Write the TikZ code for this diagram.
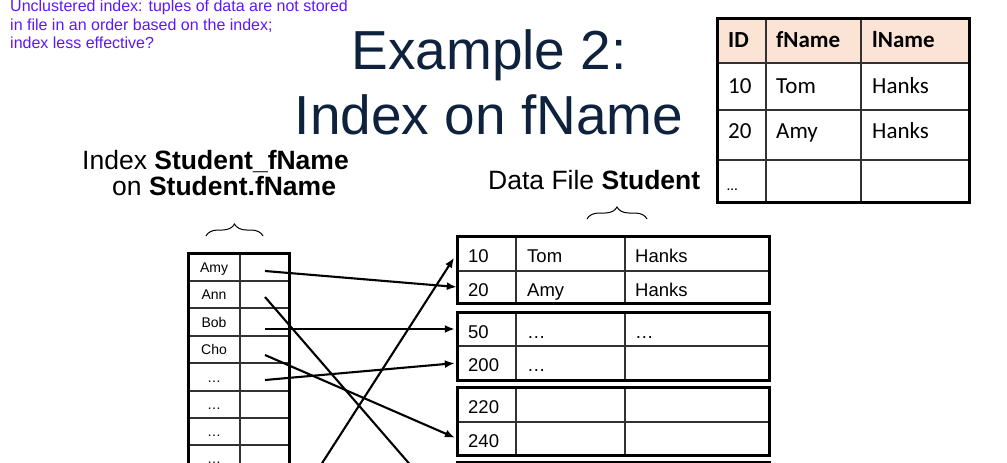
\documentclass[tikz,border=0pt]{standalone}
\usepackage{fontspec}
\setmainfont{Liberation Sans}
\newfontfamily\calibrifont{Carlito}
\usetikzlibrary{arrows.meta,decorations.pathreplacing}
\definecolor{notecol}{RGB}{92,24,250}
\definecolor{titlecol}{RGB}{14,34,62}
\definecolor{headfill}{RGB}{251,228,214}
\definecolor{gridgray}{RGB}{50,50,50}
\tikzset{
  txt/.style={inner sep=0pt, anchor=base west},
  ctxt/.style={inner sep=0pt, anchor=base},
  thickbox/.style={line width=3pt},
  thinline/.style={line width=1.2pt, gridgray},
  arr/.style={line width=2.1pt, -{Latex[length=10pt,width=8pt]}, shorten >=2pt},
  rowbox/.style={inner sep=0pt, minimum width=312pt, minimum height=34pt},
  notefont/.style={font=\fontsize{16}{18}\selectfont, text=notecol},
  titlefont/.style={font=\fontsize{55}{60}\selectfont, text=titlecol},
  labfont/.style={font=\fontsize{26.5}{30}\selectfont},
  datafont/.style={font=\fontsize{18.5}{22}\selectfont},
  idxfont/.style={font=\fontsize{14}{16}\selectfont},
  tabfont/.style={font=\calibrifont\fontsize{23}{26}\selectfont},
  bracestyle/.style={decorate, decoration={brace, amplitude=12pt}, line width=1pt}
}
\begin{document}
\begin{tikzpicture}[x=1pt,y=-1pt]
\useasboundingbox (0,0) rectangle (1007,463);
\clip (0,0) rectangle (1007,463);

% note
\node[txt, notefont] (note1) at (10,12) {Unclustered index: tuples of data are not stored};
\node[txt, notefont] (note2) at (10,30) {in file in an order based on the index;};
\node[txt, notefont] (note3) at (10,48) {index less effective?};

% title
\node[ctxt, titlefont] (title1) at (489,69) {Example 2:};
\node[ctxt, titlefont] (title2) at (489,134) {Index on fName};

% top-right table
\fill[headfill] (717,18) rectangle (969,63);
\draw[thinline] (717,63) -- (969,63) (717,110) -- (969,110) (717,160) -- (969,160)
  (766,18) -- (766,202) (861,18) -- (861,202);
\draw[thickbox] (717,18) rectangle (969,202);
\node[txt, tabfont] (hID) at (728,47) {\bfseries ID};
\node[txt, tabfont] (hF) at (776,47) {\bfseries fName};
\node[txt, tabfont] (hL) at (872,47) {\bfseries lName};
\node[txt, tabfont] (t10) at (728,93) {10};
\node[txt, tabfont] (tTom) at (776,93) {Tom};
\node[txt, tabfont] (tH1) at (872,93) {Hanks};
\node[txt, tabfont] (t20) at (728,138) {20};
\node[txt, tabfont] (tAmy) at (776,138) {Amy};
\node[txt, tabfont] (tH2) at (872,138) {Hanks};
\node[txt, font=\calibrifont\fontsize{15}{18}\selectfont] (tdots) at (727,190) {…};

% labels
\node[txt, labfont] (lab1) at (82,169) {Index \textbf{Student\_fName}};
\node[txt, labfont] (lab2) at (112,195) {on \textbf{Student.fName}};
\node[txt, labfont] (lab3) at (488,189) {Data File \textbf{Student}};

% braces
\draw[bracestyle] (206,236) -- (263,236);
\draw[bracestyle] (587,219) -- (647,219);

% index table
\draw[thinline] (240,253) -- (240,540);
\foreach \yy in {281,308,336,363,391,418,445,472,500} {
  \draw[thinline] (188,\yy) -- (289,\yy);
}
\draw[thickbox] (188,253) rectangle (289,540);
\node[ctxt, idxfont] (kAmy) at (214,272) {Amy};
\node[ctxt, idxfont] (kAnn) at (214,299.5) {Ann};
\node[ctxt, idxfont] (kBob) at (214,327) {Bob};
\node[ctxt, idxfont] (kCho) at (214,354.5) {Cho};
\node[ctxt, idxfont] (k5) at (214,382) {…};
\node[ctxt, idxfont] (k6) at (214,409.5) {…};
\node[ctxt, idxfont] (k7) at (214,436.5) {…};
\node[ctxt, idxfont] (k8) at (214,463.5) {…};
\coordinate (pAmy) at (265,271);
\coordinate (pAnn) at (265,297);
\coordinate (pBob) at (265,329);
\coordinate (pCho) at (265,355);
\coordinate (pDots) at (265,380);
\coordinate (offA) at (445,505);
\coordinate (offB) at (265,552);

% data file blocks
\foreach \top/\mid/\bot in {236/271/303, 312/346/380, 387/422/455, 462/497/530} {
  \draw[thinline] (457,\mid) -- (769,\mid) (516,\top) -- (516,\bot) (625,\top) -- (625,\bot);
  \draw[thickbox] (457,\top) rectangle (769,\bot);
}
\node[rowbox] (r10) at (613,253.5) {};
\node[rowbox] (r20) at (613,287) {};
\node[rowbox] (r50) at (613,329) {};
\node[rowbox] (r200) at (613,363) {};
\node[rowbox] (r220) at (613,404.5) {};
\node[rowbox] (r240) at (613,438.5) {};

\node[txt, datafont] (d10) at (468,262) {10};
\node[txt, datafont] (dTom) at (527,262) {Tom};
\node[txt, datafont] (dH1) at (635,262) {Hanks};
\node[txt, datafont] (d20) at (468,296) {20};
\node[txt, datafont] (dAmy) at (527,296) {Amy};
\node[txt, datafont] (dH2) at (635,296) {Hanks};
\node[txt, datafont] (d50) at (468,338) {50};
\node[txt, datafont] (d50a) at (527,338) {…};
\node[txt, datafont] (d50b) at (635,338) {…};
\node[txt, datafont] (d200) at (468,371) {200};
\node[txt, datafont] (d200a) at (527,371) {…};
\node[txt, datafont] (d220) at (468,413) {220};
\node[txt, datafont] (d240) at (468,447) {240};

% arrows
\draw[arr, shorten >=0pt] (pAmy) -- (r20.west);
\draw[arr] (pAnn) -- (offA);
\draw[arr] (pBob) -- (r50.west);
\draw[arr] (pCho) -- (r240.west);
\draw[arr] (pDots) -- (r200.west);
\draw[arr, shorten >=5pt] (offB) -- (r10.west);
\end{tikzpicture}
\end{document}
